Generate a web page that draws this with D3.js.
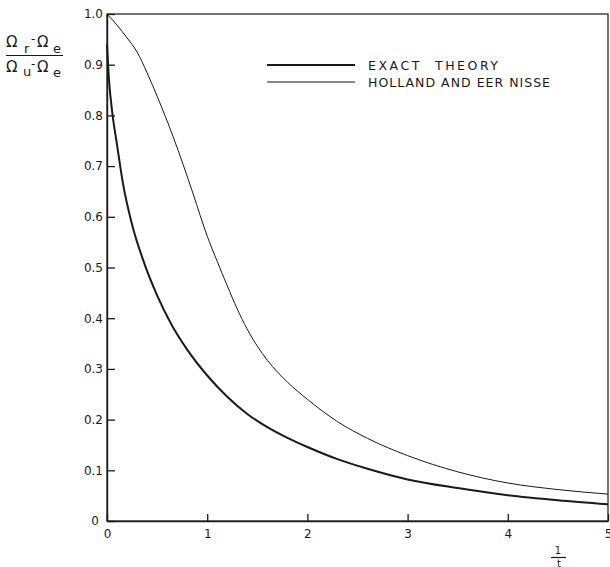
<!DOCTYPE html>
<html>
<head>
<meta charset="utf-8">
<script src="https://cdn.jsdelivr.net/npm/d3@7"></script>
<style>
  body{margin:0;background:#fff;}
  text{font-family:"DejaVu Sans", "Liberation Sans", sans-serif;fill:#1a1a1a;}
</style>
</head>
<body>
<svg id="main"></svg>
<script>
//--------data----------
let exactX = [0, 0.02, 0.05, 0.1, 0.16, 0.25, 0.36, 0.5, 0.65, 0.8, 1.0, 1.2, 1.4, 1.6, 1.8, 2.0, 2.3, 2.6, 3.0, 3.5, 4.0, 4.5, 5.0];
let exactY = [0.94, 0.87, 0.81, 0.742, 0.665, 0.585, 0.515, 0.445, 0.385, 0.338, 0.287, 0.245, 0.211, 0.185, 0.164, 0.146, 0.122, 0.103, 0.082, 0.065, 0.051, 0.041, 0.033];
let hollandX = [0, 0.1, 0.2, 0.3, 0.4, 0.5, 0.66, 0.76, 0.86, 1.0, 1.1, 1.2, 1.3, 1.4, 1.5, 1.6, 1.7, 1.8, 2.0, 2.3, 2.6, 3.0, 3.5, 4.0, 4.5, 5.0];
let hollandY = [1.0, 0.978, 0.953, 0.925, 0.884, 0.838, 0.758, 0.703, 0.645, 0.562, 0.512, 0.464, 0.418, 0.378, 0.345, 0.317, 0.294, 0.274, 0.24, 0.196, 0.163, 0.129, 0.097, 0.075, 0.062, 0.053];
let xTicks = [0, 1, 2, 3, 4, 5];
let yTicks = [0, 0.1, 0.2, 0.3, 0.4, 0.5, 0.6, 0.7, 0.8, 0.9, 1.0];
let legendLabels = ['EXACT  THEORY', 'HOLLAND AND EER NISSE'];

//--------code----------
let width = 610, height = 567;
let svg = d3.select('#main')
.attr('width', width)
.attr('height', height);

let sx = d3.scaleLinear().domain([0, 5]).range([107, 608]);
let sy = d3.scaleLinear().domain([0, 1]).range([521, 14]);
let ink = '#1a1a1a';

// frame
svg.append('rect')
.attr('x', sx(0)).attr('y', sy(1))
.attr('width', sx(5)-sx(0)).attr('height', sy(0)-sy(1))
.attr('fill', 'none').attr('stroke', ink).attr('stroke-width', 1.2);

let ay = d3.axisLeft(sy)
.tickValues(yTicks)
.tickSizeInner(-8).tickSizeOuter(0).tickPadding(4)
.tickFormat(d=> d===0 ? '0' : d3.format('.1f')(d));
let gy = svg.append('g')
.attr('transform', `translate(${sx(0)},0)`)
.call(ay);

let ax = d3.axisBottom(sx)
.tickValues(xTicks)
.tickSizeInner(-7).tickSizeOuter(0).tickPadding(8)
.tickFormat(d3.format('d'));
let gx = svg.append('g')
.attr('transform', `translate(0,${sy(0)})`)
.call(ax);

for(let g of [gx, gy]){
  g.select('.domain').attr('stroke', ink).attr('stroke-width', 1.4);
  g.selectAll('.tick line').attr('stroke', ink).attr('stroke-width', 1.3);
  g.selectAll('.tick text')
  .style('font-family', '"DejaVu Sans", sans-serif')
  .style('font-size', '12px')
  .attr('fill', ink);
}
gy.selectAll('.tick text').filter(d=>d===0).attr('x', -8);

// curves
let line = d3.line()
.x(d=>sx(d[0]))
.y(d=>sy(d[1]))
.curve(d3.curveMonotoneX);

svg.append('path')
.datum(exactX.map((x,i)=>[x, exactY[i]]))
.attr('d', line)
.attr('fill', 'none').attr('stroke', ink).attr('stroke-width', 2);

svg.append('path')
.datum(hollandX.map((x,i)=>[x, hollandY[i]]))
.attr('d', line)
.attr('fill', 'none').attr('stroke', ink).attr('stroke-width', 1);

// legend
let legendLen = [130, 182];
let legend = svg.append('g');
legendLabels.forEach((label, i)=>{
  let y = 65 + i*17;
  legend.append('line')
  .attr('x1', 267).attr('x2', 355)
  .attr('y1', y).attr('y2', y)
  .attr('stroke', ink).attr('stroke-width', i===0 ? 2 : 1);
  legend.append('text')
  .attr('x', 368).attr('y', y+4.5)
  .attr('textLength', legendLen[i])
  .attr('lengthAdjust', 'spacing')
  .style('font-size', '12.5px')
  .style('white-space', 'pre')
  .text(label);
});

// y label: fraction
let yl = svg.append('g');
function fracPart(parts){
  let t = yl.append('text');
  for(let p of parts){
    t.append('tspan').attr('x', p[1]).attr('y', p[2])
    .style('font-size', p[3] + 'px')
    .text(p[0]);
  }
}
fracPart([['Ω', 6, 47, 15], ['r', 24, 53, 13], ['-', 31, 43, 12], ['Ω', 37, 47, 15], ['e', 53, 53, 13]]);
yl.append('line')
.attr('x1', 6).attr('x2', 63).attr('y1', 55.5).attr('y2', 55.5)
.attr('stroke', ink).attr('stroke-width', 1.2);
fracPart([['Ω', 6, 72, 15], ['u', 23, 76, 13], ['-', 31, 68, 12], ['Ω', 37, 72, 15], ['e', 53, 77, 13]]);

// x label: 1/t
let xl = svg.append('g').style('font-size', '10px');
xl.append('text').attr('x', 558).attr('y', 554).attr('text-anchor', 'middle').text('1');
xl.append('line')
.attr('x1', 551).attr('x2', 566).attr('y1', 557.5).attr('y2', 557.5)
.attr('stroke', ink).attr('stroke-width', 1.2);
xl.append('text').attr('x', 559).attr('y', 566.5).attr('text-anchor', 'middle').text('t');
</script>
</body>
</html>
